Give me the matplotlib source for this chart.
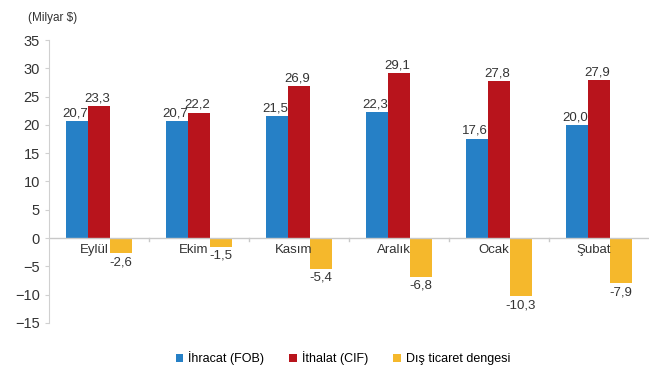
import numpy as np
from matplotlib import pyplot as plt

plt.rcParams['font.family'] = ['Liberation Sans', 'DejaVu Sans']

# Monthly foreign trade data (billion $)
months = ['Eylül', 'Ekim', 'Kasım', 'Aralık', 'Ocak', 'Şubat']
exports = [20.7, 20.7, 21.5, 22.3, 17.6, 20.0]
imports = [23.3, 22.2, 26.9, 29.1, 27.8, 27.9]
balance = [-2.6, -1.5, -5.4, -6.8, -10.3, -7.9]

series_names = ['İhracat (FOB)', 'İthalat (CIF)', 'Dış ticaret dengesi']
colors = ['#2680c6', '#b8141c', '#f5b82c']


def fmt(v):
    return '{:.1f}'.format(v).replace('.', ',')


fig = plt.figure(figsize=(6.51, 3.75), dpi=100)
ax = fig.add_axes([0.075, 0.139, 0.922, 0.754])

x = np.arange(len(months))
w = 0.22
for i, (vals, name, c) in enumerate(zip([exports, imports, balance], series_names, colors)):
    pos = x + (i - 1) * w
    ax.bar(pos, vals, width=w, color=c, label=name)
    for p, v in zip(pos, vals):
        if v >= 0:
            ax.text(p - 0.02, v + 0.3, fmt(v), ha='center', va='bottom', fontsize=9.5, color='#333333')
        else:
            ax.text(p, v - 0.6, fmt(v), ha='center', va='top', fontsize=9.5, color='#333333')

# category labels just under the zero line
for xi, m in zip(x, months):
    ax.text(xi - 0.05, -1.0, m, ha='center', va='top', fontsize=9.5, color='#333333')

ax.set_xlim(-0.5, len(months) - 0.5)
ax.set_ylim(-15, 35)
ax.set_yticks(range(-15, 40, 5))
ax.tick_params(axis='y', labelsize=10.5, colors='#333333', length=3, color='#d0d0d0')
ax.set_xticks([])

ax.axhline(0, color='#c8c8c8', lw=1)
for b in np.arange(0.5, len(months) - 0.5, 1):
    ax.plot([b, b], [0, -0.5], color='#c8c8c8', lw=1)

for s in ['top', 'right', 'bottom']:
    ax.spines[s].set_visible(False)
ax.spines['left'].set_color('#d0d0d0')

fig.text(0.043, 0.952, '(Milyar $)', fontsize=8.5, color='#333333', va='center')

ax.legend(loc='upper center', bbox_to_anchor=(0.49, -0.06), ncol=3, frameon=False,
          fontsize=9, handlelength=0.6, handleheight=0.6, handletextpad=0.4, columnspacing=2.0)

plt.savefig('out.png', dpi=100)
